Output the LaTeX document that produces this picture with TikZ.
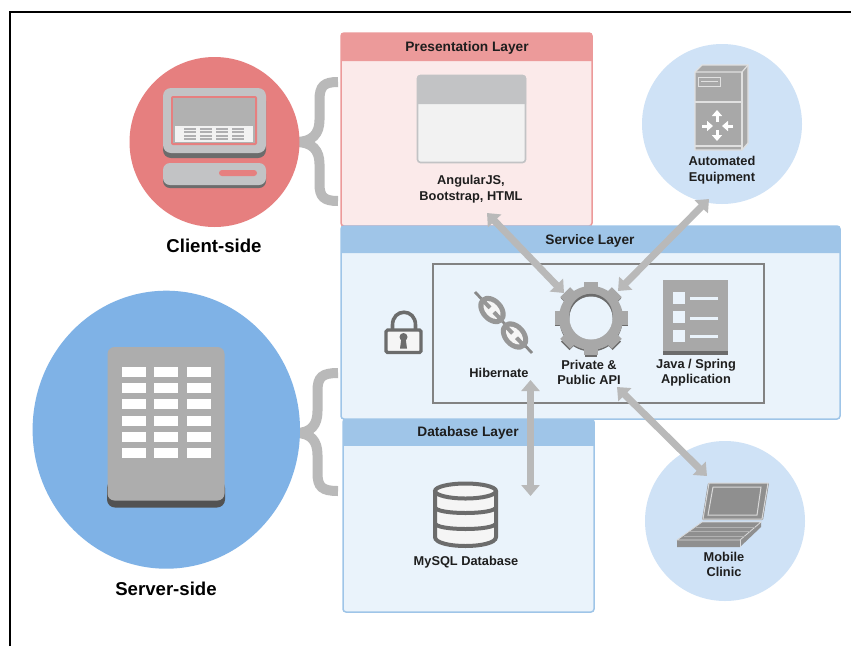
\documentclass[tikz,border=0pt]{standalone}
\usepackage{fontspec}
\setmainfont{Liberation Sans}
\usetikzlibrary{arrows.meta}
\definecolor{redcirc}{HTML}{E67F7F}
\definecolor{redhead}{HTML}{EC9A9A}
\definecolor{redbody}{HTML}{FBEAEA}
\definecolor{bluecirc}{HTML}{7FB2E6}
\definecolor{bluepale}{HTML}{CFE2F6}
\definecolor{bluehead}{HTML}{9FC5E8}
\definecolor{bluebody}{HTML}{EAF3FB}
\definecolor{iconA}{HTML}{A8A8A8}
\definecolor{iconB}{HTML}{C2C3C5}
\definecolor{iconD}{HTML}{6C6C6C}
\definecolor{brace}{HTML}{B9B9B9}
\definecolor{ink}{HTML}{1E1E1E}
\tikzset{
  x=1pt,y=-1pt,
  lbl/.style={font=\fontsize{12.8}{15.5}\selectfont\bfseries,text=ink,align=center,inner sep=0pt},
  ttl/.style={font=\fontsize{13.7}{15.5}\selectfont\bfseries,text=ink,align=center,inner sep=0pt},
  big/.style={font=\fontsize{18.6}{22}\selectfont\bfseries,text=black,inner sep=0pt},
  conn/.style={draw=brace,line width=7pt,{Triangle[width=18pt,length=11pt]}-{Triangle[width=18pt,length=11pt]}},
  bracepath/.style={draw=brace,line width=10pt},
  redlayer/.style={fill=redbody,draw=redhead,line width=1.5pt,rounded corners=3pt},
  bluelayer/.style={fill=bluebody,draw=bluehead,line width=1.5pt,rounded corners=3pt},
  smallarrow/.style={draw=white,line width=3pt,-{Triangle[width=10pt,length=6pt]}},
}
\begin{document}
\begin{tikzpicture}
\useasboundingbox (0,0) rectangle (851,646);
\fill[white] (0,0) rectangle (851,646);
% frame
\draw[black,line width=2pt] (10,646) -- (10,12) -- (851,12);

% braces
\draw[bracepath] (338,82) .. controls (324,82) and (319.5,86) .. (319.5,100) -- (319.5,120)
  .. controls (319.5,134) and (312,142) .. (296,142)
  .. controls (312,142) and (319.5,150) .. (319.5,164) -- (319.5,184)
  .. controls (319.5,197) and (324,201) .. (338,201);
\draw[bracepath] (338,373) .. controls (322,373) and (317.5,377) .. (317.5,391) -- (317.5,411)
  .. controls (317.5,425) and (311,433) .. (296,433)
  .. controls (311,433) and (317.5,441) .. (317.5,455) -- (317.5,473)
  .. controls (317.5,487) and (322,491) .. (338,491);

% circles
\fill[redcirc] (214.5,142) circle[radius=85pt];
\fill[bluecirc] (166.3,429.7) ellipse[x radius=133.7pt,y radius=139pt];
\fill[bluepale] (722,124) circle[radius=80pt];
\fill[bluepale] (725,521) circle[radius=80pt];

% layers
\draw[redlayer] (341,33) rectangle (592,226);
\fill[redhead,rounded corners=3pt] (341,61) -- (341,33) -- (592,33) -- (592,61);
\draw[bluelayer] (343,419) rectangle (594,612);
\fill[bluehead] (343,419) rectangle (594,446);
\draw[bluelayer] (341,226) rectangle (840,419);
\fill[bluehead,rounded corners=3pt] (341,253) -- (341,226) -- (840,226) -- (840,253);
\draw[draw=iconD!85!white,line width=1.6pt] (433,264) rectangle (764,403);

% client computer
\fill[iconD,rounded corners=8pt] (163,93) rectangle (266,158);
\fill[iconB,rounded corners=8pt] (163,88) rectangle (266,153);
\fill[redcirc,rounded corners=2pt] (171,96) rectangle (257,145);
\fill[iconA!90!white] (173,98) rectangle (255,143);
\fill[white!95!black] (175,126) rectangle (253,142);
\foreach \cx in {190,206,221.5,237.5}{
  \foreach \cy in {127.5,131,134.5,138}{
    \fill[iconB!90!black] (\cx-6,\cy) rectangle (\cx+6,\cy+2.2);
  }
}
\fill[iconD,rounded corners=7pt] (163,167) rectangle (266,188);
\fill[iconB,rounded corners=7pt] (163,163) rectangle (266,185);
\fill[redcirc,rounded corners=3pt] (219,170) rectangle (257,176);

% server building
\fill[black!68,rounded corners=8pt] (107,480) rectangle (225,507.5);
\fill[black!32,rounded corners=7pt] (107.5,347) rectangle (224.5,500.5);
\foreach \wx in {121.5,154,186.5}{
  \foreach \wy in {366.5,382.5,399,415.5,432,448.3}{
    \fill[white] (\wx,\wy) rectangle (\wx+24.3,\wy+10);
  }
}

% window icon
\draw[fill=white!95!black,draw=iconB,line width=1.6pt,rounded corners=3pt] (417.5,75.5) rectangle (525.5,162.5);
\fill[iconB,rounded corners=3pt] (417,104) -- (417,75) -- (526,75) -- (526,104);

% padlock
\draw[iconD,line width=3.6pt] (392.5,330) -- (392.5,325) .. controls (392.5,308) and (415.5,308) .. (415.5,325) -- (415.5,330);
\draw[fill=white!96!black,draw=iconD,line width=3.2pt,rounded corners=1.5pt] (386,330) rectangle (421,352.5);
\fill[iconD] (403.5,337) circle[radius=4pt];
\fill[iconD] (401.4,338) -- (405.6,338) -- (407,348.5) -- (400,348.5) -- cycle;

% chain
\draw[iconD!80!white,line width=2.8pt] (475,292) -- (532,353);
\foreach \lx/\ly in {492/310,514.5/335.5}{
  \fill[iconA!90!black,rotate around={-48:(\lx,\ly)}] (\lx,\ly) ellipse[x radius=16pt,y radius=11.5pt];
  \fill[white!96!black,rotate around={-48:(\lx,\ly)}] (\lx,\ly) ellipse[x radius=10.5pt,y radius=6.5pt];
  \draw[iconA!90!black,line width=4pt] (\lx-8,\ly-8.5) -- (\lx-2,\ly-2.2);
  \draw[iconA!90!black,line width=4pt] (\lx+8,\ly+8.5) -- (\lx+2,\ly+2.2);
}

% gear
\begin{scope}[shift={(591,318)}]
  \foreach \a in {0,45,...,315}{
    \begin{scope}[shift={(0,2)}]
      \fill[iconD,rotate=\a] (-6,25) rectangle (6,36.5);
    \end{scope}
  }
  \fill[iconD] (0,2) circle[radius=31.5pt];
  \foreach \a in {0,45,...,315}{
    \fill[iconA,rotate=\a] (-7,25) rectangle (7,36.5);
  }
  \fill[iconA] (0,0) circle[radius=32pt];
  \fill[iconD] (0,-2.5) circle[radius=21.7pt];
  \fill[bluebody] (0,0) circle[radius=21.5pt];
\end{scope}

% document icon
\fill[iconD] (663,350) rectangle (728,354.5);
\fill[iconA] (663,280) rectangle (728,351);
\foreach \ry/\ly in {292/298,311/318,330/336}{
  \fill[bluebody] (673,\ry) rectangle (685,\ry+12);
  \fill[bluebody] (690,\ly-1.5) rectangle (718,\ly+1.5);
}

% equipment icon
\fill[iconA] (695,72) -- (702,65) -- (748,65) -- (748,143) -- (742,150) -- (695,150) -- cycle;
\draw[white!88!black,line width=1.2pt] (695,72) -- (702,65) -- (748,65) -- (748,143) -- (742,150) -- (695,150) -- cycle;
\draw[white!88!black,line width=1.2pt] (695,72) -- (742,72) -- (748,65);
\draw[white!88!black,line width=1.2pt] (742,72) -- (742,150);
\draw[white!88!black,line width=1.2pt] (695,102) -- (742,102);
\draw[white!88!black,line width=2pt] (695,146) -- (742,146);
\draw[white!88!black,line width=1pt] (698.5,77.5) rectangle (720.5,86);
\draw[white!88!black,line width=1pt] (701,81.5) -- (718,81.5);
\draw[smallarrow] (717,122) -- (717,110);
\draw[smallarrow] (717,130) -- (717,141);
\draw[smallarrow] (702,126) -- (713,126);
\draw[smallarrow] (733,126) -- (722,126);

% laptop
\fill[iconA!85!black,rounded corners=1pt] (708,483) -- (769,483) -- (763,520) -- (702,520) -- cycle;
\draw[white!85!black,line width=1pt] (709,483) -- (768,483) -- (762,519) -- (703,519) -- cycle;
\draw[white!85!black,line width=1pt] (713,487) -- (761,487) -- (757,515) -- (708,515) -- cycle;
\fill[iconA!85!black] (702,522) -- (761,522) -- (761,527) -- (740,547) -- (677,547) -- (677,540) -- cycle;
\draw[white!85!black,line width=.8pt] (702,522) -- (761,522) -- (740,540) -- (677,540) -- cycle;
\draw[white!70!black,line width=.7pt] (696,527) -- (755,527);
\draw[white!70!black,line width=.7pt] (690,531.5) -- (750,531.5);
\draw[white!70!black,line width=.7pt] (684,536) -- (745,536);
\draw[white!85!black,line width=.8pt] (740,540) -- (740,547);

% database cylinder
\draw[fill=white!96!black,draw=iconD,line width=4pt] (435,491) -- (435,537)
  .. controls (435,549) and (496,549) .. (496,537) -- (496,491);
\draw[fill=white!96!black,draw=iconD,line width=4pt] (465.5,491) ellipse[x radius=30.5pt,y radius=7.5pt];
\draw[iconD,line width=4pt] (435,507) .. controls (435,515) and (496,515) .. (496,507);
\draw[iconD,line width=4pt] (435,523) .. controls (435,531) and (496,531) .. (496,523);

% labels
\node[big] (client) at (214,246) {Client-side};
\node[big] (server) at (166,589) {Server-side};
\node[ttl] (presTitle) at (467,48) {Presentation Layer};
\node[ttl] (servTitle) at (590,241) {Service Layer};
\node[ttl] (dbTitle) at (468,433) {Database Layer};
\node[lbl] (web) at (471,189) {AngularJS,\\Bootstrap, HTML};
\node[lbl] (equip) at (722,170) {Automated\\Equipment};
\node[lbl] (hib) at (499,373) {Hibernate};
\node[lbl] (api) at (589,372.5) {Private \&\\Public API};
\node[lbl] (java) at (696,372.5) {Java / Spring\\Application};
\node[lbl] (mysql) at (466,562.5) {MySQL Database};
\node[lbl] (mobile) at (724,564.5) {Mobile\\Clinic};

% connector ends
\coordinate (webEnd) at (487,213);
\coordinate (gearNW) at (564,293);
\coordinate (equipEnd) at (709,199);
\coordinate (gearNE) at (618,291);
\coordinate (hibEnd) at (530.5,380);
\coordinate (dbEnd) at (530.5,496);
\coordinate (apiEnd) at (617,387);
\coordinate (mobileEnd) at (707,476);
\draw[conn] (webEnd) -- (gearNW);
\draw[conn] (equipEnd) -- (gearNE);
\draw[conn] (hibEnd) -- (dbEnd);
\draw[conn] (apiEnd) -- (mobileEnd);
\end{tikzpicture}
\end{document}
